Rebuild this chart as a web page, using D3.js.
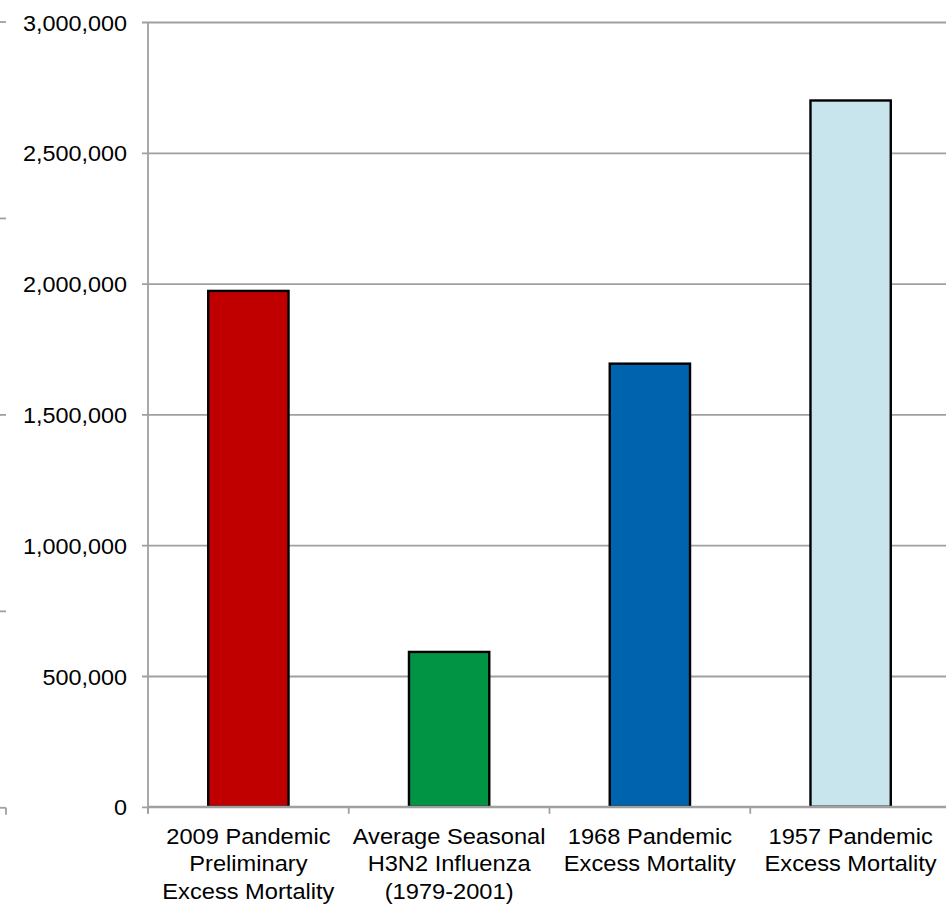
<!DOCTYPE html>
<html>
<head>
<meta charset="utf-8">
<script src="https://cdn.jsdelivr.net/npm/d3@7"></script>
<style>
  html, body { margin: 0; padding: 0; background: #fff; }
  svg { display: block; }
  text { font-family: "Liberation Sans", Arial, sans-serif; fill: #000; }
</style>
</head>
<body>
<svg id="chart" width="946" height="904"></svg>
<script>
// Excess mortality estimates by influenza event
const categories = [
  ["2009 Pandemic", "Preliminary", "Excess Mortality"],
  ["Average Seasonal", "H3N2 Influenza", "(1979-2001)"],
  ["1968 Pandemic", "Excess Mortality"],
  ["1957 Pandemic", "Excess Mortality"]
];
const deaths = [1972000, 592000, 1694000, 2700000];
const barColors = ["#c00000", "#009444", "#0063ad", "#c8e4ec"];
const yTicks = [0, 500000, 1000000, 1500000, 2000000, 2500000, 3000000];
const stubTicks = [0, 1, 2, 3, 4];

(function draw() {
  const svg = d3.select("#chart");
  const W = 946;
  const plotLeft = 148, plotRight = 951, plotTop = 22, plotBottom = 806.8;
  const gridColor = "#a0a0a0";
  const gridWidth = 1.8;

  const x = d3.scaleBand()
    .domain(d3.range(categories.length))
    .range([plotLeft, plotRight])
    .paddingInner(0.6)
    .paddingOuter(0.3);

  const y = d3.scaleLinear().domain([0, 3000000]).range([plotBottom, plotTop]);
  const yStub = d3.scaleLinear().domain([0, 4]).range([plotBottom + 1, plotTop]);

  // horizontal gridlines with short outward ticks
  const yAxis = d3.axisLeft(y)
    .tickValues(yTicks)
    .tickSize(-(W - plotLeft))
    .tickSizeOuter(0)
    .tickPadding(15)
    .tickFormat(d3.format(","));

  const gy = svg.append("g")
    .attr("transform", `translate(${plotLeft},0)`)
    .call(yAxis);
  gy.select(".domain").remove();
  gy.selectAll(".tick line")
    .attr("x1", -6)
    .attr("stroke", gridColor)
    .attr("stroke-width", gridWidth);
  gy.selectAll(".tick text")
    .attr("font-size", 22.5)
    .attr("text-anchor", "end")
    .attr("x", -21)
    .attr("dy", "0.36em")
    .attr("transform", "scale(1.04,1)")
    .attr("transform-origin", "-21 0");

  // vertical axis line
  svg.append("line")
    .attr("x1", plotLeft).attr("x2", plotLeft)
    .attr("y1", plotTop).attr("y2", plotBottom + 7)
    .attr("stroke", gridColor).attr("stroke-width", gridWidth);

  // category boundary ticks below the baseline
  const bounds = d3.range(categories.length + 1).map(i => plotLeft + i * x.step());
  svg.append("g").selectAll("line")
    .data(bounds)
    .join("line")
    .attr("x1", d => d).attr("x2", d => d)
    .attr("y1", plotBottom).attr("y2", plotBottom + 7)
    .attr("stroke", gridColor).attr("stroke-width", gridWidth);

  // partial axis ticks along the left edge
  svg.append("g").selectAll("line")
    .data(stubTicks)
    .join("line")
    .attr("x1", 0).attr("x2", 6)
    .attr("y1", d => yStub(d)).attr("y2", d => yStub(d))
    .attr("stroke", gridColor).attr("stroke-width", gridWidth);
  svg.append("line")
    .attr("x1", 6).attr("x2", 6)
    .attr("y1", yStub(0)).attr("y2", yStub(0) + 7)
    .attr("stroke", gridColor).attr("stroke-width", gridWidth);

  // bars
  svg.append("g").selectAll("rect")
    .data(deaths)
    .join("rect")
    .attr("x", (d, i) => x(i))
    .attr("y", d => y(d))
    .attr("width", x.bandwidth())
    .attr("height", d => y(0) - y(d))
    .attr("fill", (d, i) => barColors[i])
    .attr("stroke", "#000")
    .attr("stroke-width", 2.4);

  // baseline drawn over the bars' bottom edges
  svg.append("line")
    .attr("x1", plotLeft).attr("x2", W)
    .attr("y1", plotBottom).attr("y2", plotBottom)
    .attr("stroke", gridColor).attr("stroke-width", 2.2);

  // category labels
  const lab = svg.append("g").selectAll("g")
    .data(categories)
    .join("g")
    .attr("transform", (d, i) => `translate(${x(i) + x.bandwidth() / 2},843.5) scale(1.1,1)`);
  lab.selectAll("text")
    .data(d => d)
    .join("text")
    .attr("y", (d, j) => j * 28)
    .attr("text-anchor", "middle")
    .attr("font-size", 21.5)
    .text(d => d);
})();
</script>
</body>
</html>
